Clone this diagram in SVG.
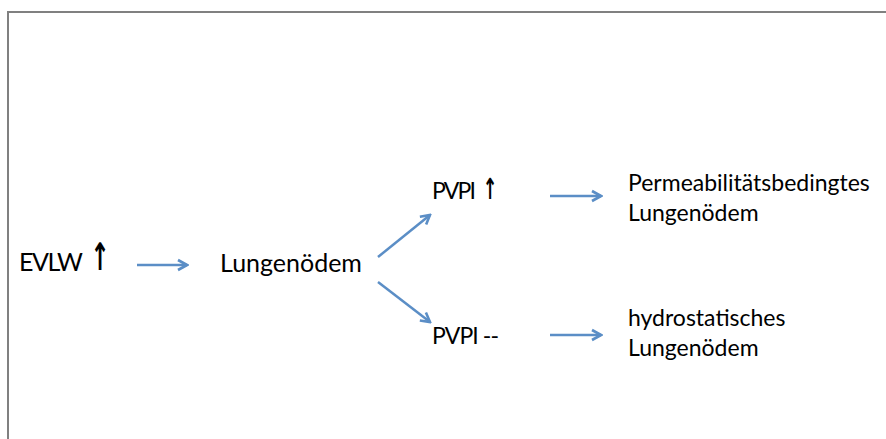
<svg xmlns="http://www.w3.org/2000/svg" width="886" height="439" viewBox="0 0 886 439">
  <style>
    .t { font-family: Lato, "Liberation Sans", sans-serif; fill: #000; }
    .big { font-size: 25px; }
    .mid { font-size: 23px; }
    .up { font-family: "DejaVu Sans", sans-serif; font-weight: bold; text-anchor: middle; fill: #000; }
    .con { stroke: #5b8ec6; stroke-width: 2.5; fill: none; marker-end: url(#head); }
  </style>
  <defs>
    <marker id="head" markerUnits="userSpaceOnUse" viewBox="-12 -7 14 14" markerWidth="14" markerHeight="14" refX="0" refY="0" orient="auto">
      <path d="M-9,-5 L0,0 L-9,5" fill="none" stroke="#5b8ec6" stroke-width="2.6" stroke-linejoin="miter"/>
    </marker>
  </defs>

  <rect x="8" y="12" width="900" height="440" fill="#fff" stroke="#808080" stroke-width="2"/>

  <g id="connectors">
    <line class="con" x1="137" y1="265" x2="187" y2="265"/>
    <line class="con" x1="378" y1="257" x2="430" y2="215"/>
    <line class="con" x1="378" y1="282" x2="430" y2="322"/>
    <line class="con" x1="550" y1="196" x2="601" y2="196"/>
    <line class="con" x1="550" y1="335" x2="601" y2="335"/>
  </g>

  <g id="evlw">
    <text class="t big" x="19" y="271" textLength="64">EVLW</text>
    <text class="up" font-size="38" transform="translate(100,270) scale(0.6,1)">↑</text>
  </g>

  <g id="lungenoedem">
    <text class="t big" x="220" y="272">Lungenödem</text>
  </g>

  <g id="pvpi-up">
    <text class="t mid" x="432" y="199" textLength="44">PVPI</text>
    <text class="up" font-size="29" transform="translate(490,199) scale(0.6,1)">↑</text>
  </g>

  <g id="pvpi-flat">
    <text class="t mid" x="432" y="344" textLength="67">PVPI --</text>
  </g>

  <g id="permeabilitaet">
    <text class="t mid" x="628" y="191">Permeabilitätsbedingtes</text>
    <text class="t mid" x="628" y="221">Lungenödem</text>
  </g>

  <g id="hydrostatisch">
    <text class="t mid" x="628" y="326">hydrostatisches</text>
    <text class="t mid" x="628" y="356">Lungenödem</text>
  </g>
</svg>
